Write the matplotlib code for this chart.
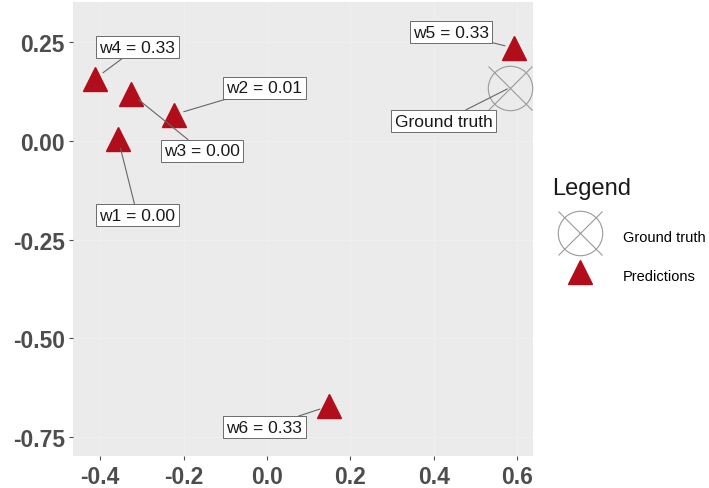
import matplotlib.pyplot as plt
from matplotlib.lines import Line2D

plt.rcParams['font.family'] = ['Liberation Sans', 'DejaVu Sans']

# predicted positions and their weights
pred_x = [-0.357, -0.222, -0.326, -0.412, 0.593, 0.149]
pred_y = [0.006, 0.067, 0.120, 0.158, 0.235, -0.671]
pred_w = [0.00, 0.01, 0.00, 0.33, 0.33, 0.33]
pred_names = ['w1', 'w2', 'w3', 'w4', 'w5', 'w6']
# where each label box sits
lab_x = [-0.311, -0.006, -0.156, -0.311, 0.441, -0.007]
lab_y = [-0.188, 0.135, -0.025, 0.237, 0.275, -0.725]

truth_x, truth_y = 0.582, 0.135
truth_lab = (0.423, 0.050)

xticks = [-0.4, -0.2, 0.0, 0.2, 0.4, 0.6]
yticks = [0.25, 0.00, -0.25, -0.50, -0.75]

red = '#b10d1a'
grey = '#9a9a9a'

fig = plt.figure(figsize=(7.09, 4.89), dpi=100)
ax = fig.add_axes([0.103, 0.065, 0.649, 0.929])
ax.set_facecolor('#ebebeb')
for s in ax.spines.values():
    s.set_visible(False)

ax.set_xlim(-0.465, 0.638)
ax.set_ylim(-0.798, 0.352)
ax.set_xticks(xticks)
ax.set_xticklabels(['%.1f' % v for v in xticks])
ax.set_yticks(yticks)
ax.set_yticklabels(['%.2f' % v for v in yticks])
ax.tick_params(colors='#4d4d4d', labelsize=16.5, length=3, width=0.8, pad=3)
for t in ax.get_xticklabels() + ax.get_yticklabels():
    t.set_fontweight('bold')
ax.grid(color='#efefef', lw=1)
ax.set_axisbelow(True)

# ground truth: circle with a cross
ax.plot(truth_x, truth_y, 'o', ms=32, mfc='none', mec=grey, mew=0.8, zorder=3)
ax.plot(truth_x, truth_y, 'x', ms=32, mec=grey, mew=0.8, zorder=3)
ax.annotate('Ground truth', xy=(truth_x, truth_y), xytext=truth_lab,
            ha='center', va='center', fontsize=12.5, color='#1a1a1a',
            bbox=dict(boxstyle='square,pad=0.2', fc='white', ec='#555555', lw=0.6),
            arrowprops=dict(arrowstyle='-', color='#666666', lw=0.8, shrinkA=0, shrinkB=2),
            zorder=5)

ax.plot(pred_x, pred_y, '^', ms=17, color=red, mec=red, zorder=4)
for i in range(len(pred_x)):
    ax.annotate('%s = %.2f' % (pred_names[i], pred_w[i]), xy=(pred_x[i], pred_y[i]),
                xytext=(lab_x[i], lab_y[i]), ha='center', va='center',
                fontsize=12.5, color='#1a1a1a',
                bbox=dict(boxstyle='square,pad=0.2', fc='white', ec='#555555', lw=0.6),
                arrowprops=dict(arrowstyle='-', color='#666666', lw=0.8,
                                shrinkA=0, shrinkB=7),
                zorder=5)

# legend on the right, title drawn on its own
fig.text(0.779, 0.601, 'Legend', fontsize=17, color='#1a1a1a', va='baseline')
h_truth = (Line2D([], [], ls='none', marker='o', ms=32, mfc='none', mec=grey, mew=0.8),
           Line2D([], [], ls='none', marker='x', ms=32, mec=grey, mew=0.8))
h_pred = Line2D([], [], ls='none', marker='^', ms=17, color=red)
fig.legend([h_truth, h_pred], ['Ground truth', 'Predictions'],
           loc='center left', bbox_to_anchor=(0.761, 0.4744),
           fontsize=10.5, frameon=False, handlelength=3.7, handleheight=2.0,
           handletextpad=1.1, labelspacing=1.15)

fig.savefig('out.png', dpi=100)
